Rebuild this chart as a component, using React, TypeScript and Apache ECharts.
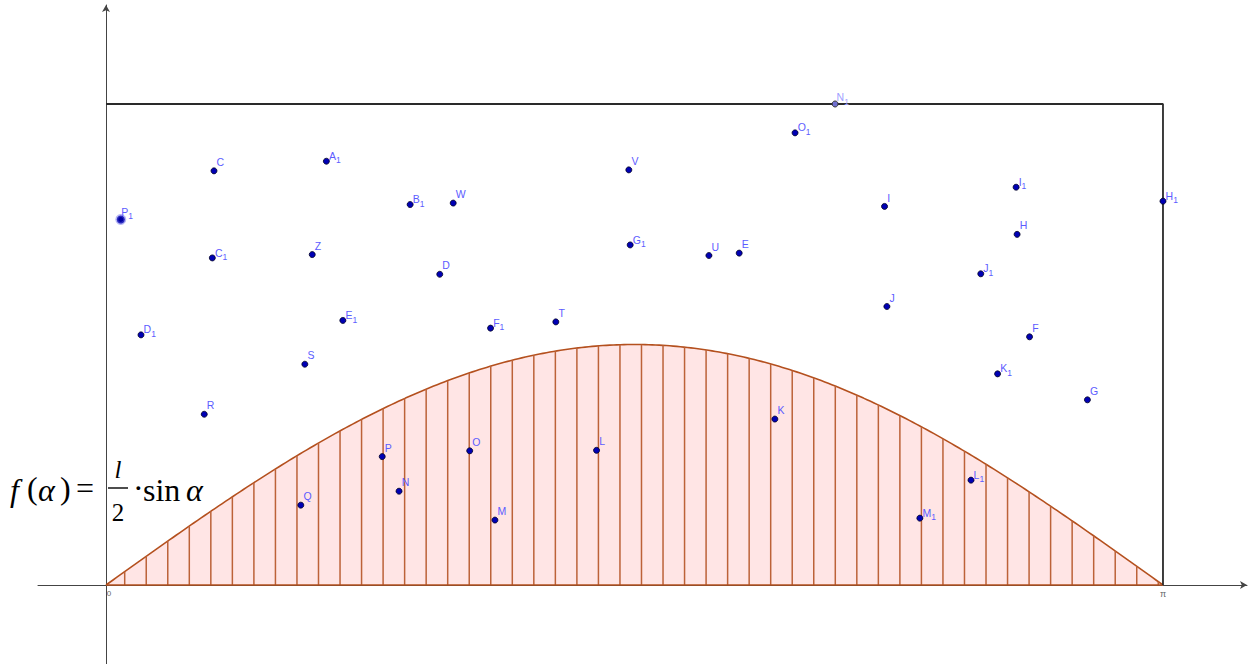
import React, { useEffect, useRef } from "react";
import * as echarts from "echarts";

// Needle length l (height of the rectangle); curve is f(α) = l/2 · sin α
const L = 1;

// Visible window of the coordinate system
const X_MIN = -0.2021;
const X_MAX = 3.3913;
const Y_MIN = -0.1642;
const Y_MAX = 1.2058;

// Random sample points (α, y)
const pointNames = [
  "P1", "C", "A1", "B1", "W", "V", "O1", "I1", "H1", "I", "H", "C1", "Z", "G1", "U", "E", "D",
  "J1", "J", "D1", "E1", "F1", "T", "F", "K1", "S", "G", "R", "K", "P", "O", "L", "L1", "Q", "N", "M", "M1",
];
const pointX = [
  0.044, 0.321, 0.655, 0.904, 1.032, 1.554, 2.048, 2.705, 3.1416, 2.314, 2.708, 0.316, 0.613, 1.558, 1.792, 1.882, 0.992,
  2.600, 2.321, 0.104, 0.704, 1.143, 1.337, 2.745, 2.650, 0.591, 2.917, 0.292, 1.988, 0.821, 1.081, 1.458, 2.571, 0.579, 0.871, 1.156, 2.419,
];
const pointY = [
  0.760, 0.861, 0.881, 0.791, 0.794, 0.863, 0.940, 0.827, 0.798, 0.787, 0.729, 0.680, 0.687, 0.707, 0.685, 0.690, 0.646,
  0.647, 0.579, 0.520, 0.550, 0.534, 0.547, 0.516, 0.439, 0.459, 0.385, 0.355, 0.345, 0.267, 0.279, 0.280, 0.218, 0.166, 0.195, 0.135, 0.139,
];
// Point on the upper edge of the rectangle
const edgePointName = "N1";
const edgePointX = 2.167;
const edgePointY = 1.0;

// Hatching of the area under the curve
const hatchStart = 0.0556;
const hatchStep = 0.064;
const hatchCount = 49;

// Axis tick labels
const tickValues = [0, Math.PI];
const tickLabels = ["0", "π"];

const f = (a: number) => (L / 2) * Math.sin(a);

function labelText(name: string) {
  const base = name.replace(/\d+$/, "");
  const sub = name.slice(base.length);
  return sub ? `{b|${base}}{s|${sub}}` : `{b|${base}}`;
}

const SERIF = '"Liberation Serif", "Times New Roman", serif';

function serifText(text: string, x: number, y: number, size: number, italic: boolean, align = "left") {
  return {
    type: "text",
    x,
    y,
    z: 20,
    style: {
      text,
      fontFamily: SERIF,
      fontSize: size,
      fontStyle: italic ? "italic" : "normal",
      fill: "#000",
      textAlign: align,
      textVerticalAlign: "middle",
    },
  };
}

export default function App() {
  const ref = useRef<HTMLDivElement>(null);

  useEffect(() => {
    if (!ref.current) return;
    const chart = echarts.init(ref.current, undefined, { renderer: "svg" });

    const curveData: number[][] = [];
    for (let i = 0; i <= 300; i++) {
      const a = (i / 300) * Math.PI;
      curveData.push([a, f(a)]);
    }
    const hatchData: number[][] = [];
    for (let k = 0; k < hatchCount; k++) {
      const x = hatchStart + k * hatchStep;
      hatchData.push([x, f(x)]);
    }

    const labelRich = {
      b: { fontSize: 10.5, color: "#5c5cff", fontFamily: "Liberation Sans" },
      s: { fontSize: 8.5, color: "#5c5cff", fontFamily: "Liberation Sans", padding: [9, 0, 0, 0] },
    };
    const edgeRich = {
      b: { fontSize: 10.5, color: "#a0a0ff", fontFamily: "Liberation Sans" },
      s: { fontSize: 8.5, color: "#a0a0ff", fontFamily: "Liberation Sans", padding: [9, 0, 0, 0] },
    };

    const pts = pointNames.map((n, i) => {
      const big = n === "P1";
      return {
        name: n,
        value: [pointX[i], pointY[i]],
        symbolSize: big ? 8 : 6,
        itemStyle: big
          ? { color: "#0000a0", borderColor: "rgba(90,90,230,0.45)", borderWidth: 3, opacity: 1 }
          : { color: "#0000b4", borderColor: "#000022", borderWidth: 0.8, opacity: 1 },
      };
    });

    const option: any = {
      animation: false,
      backgroundColor: "#ffffff",
      grid: { left: 38, right: 3, top: 5, bottom: 0, containLabel: false, outerBoundsMode: "none" },
      xAxis: {
        type: "value",
        min: X_MIN,
        max: X_MAX,
        splitLine: { show: false },
        axisTick: { show: false },
        axisLabel: { show: false },
        axisLine: {
          onZero: true,
          lineStyle: { color: "#444", width: 1 },
          symbol: ["none", "arrow"],
          symbolSize: [6, 7],
        },
      },
      yAxis: {
        type: "value",
        min: Y_MIN,
        max: Y_MAX,
        splitLine: { show: false },
        axisTick: { show: false },
        axisLabel: { show: false },
        axisLine: {
          onZero: true,
          lineStyle: { color: "#444", width: 1 },
          symbol: ["none", "arrow"],
          symbolSize: [6, 7],
        },
      },
      series: [
        {
          type: "line",
          data: curveData,
          showSymbol: false,
          smooth: false,
          lineStyle: { color: "#b4501e", width: 1.6 },
          areaStyle: { color: "#ffe5e5", opacity: 1 },
          z: 2,
          silent: true,
        },
        {
          type: "custom",
          data: hatchData,
          clip: false,
          z: 3,
          silent: true,
          renderItem: (_p: any, api: any) => {
            const x = api.value(0);
            const p0 = api.coord([x, 0]);
            const p1 = api.coord([x, api.value(1)]);
            return {
              type: "line",
              shape: { x1: p0[0], y1: p0[1], x2: p1[0], y2: p1[1] },
              style: { stroke: "#bc6238", lineWidth: 1.5 },
            };
          },
        },
        {
          type: "line",
          data: [
            [0, 0],
            [Math.PI, 0],
          ],
          showSymbol: false,
          lineStyle: { color: "#b4501e", width: 1.6 },
          z: 4,
          silent: true,
        },
        {
          type: "line",
          data: [
            [0, L],
            [Math.PI, L],
            [Math.PI, 0],
          ],
          showSymbol: false,
          lineStyle: { color: "#2a2a2a", width: 1.8 },
          z: 5,
          silent: true,
        },
        {
          type: "scatter",
          data: tickValues.map((v, i) => ({ name: tickLabels[i], value: [v, 0] })),
          symbol: "circle",
          symbolSize: 1,
          itemStyle: { color: "rgba(0,0,0,0)", opacity: 1 },
          z: 6,
          silent: true,
          label: {
            show: true,
            position: "bottom",
            distance: 4,
            formatter: (p: any) => (p.dataIndex === 0 ? `{z|${p.name}}` : `{n|${p.name}}`),
            rich: {
              z: { fontSize: 8, color: "#666", fontFamily: "Liberation Sans", padding: [0, 0, 0, 6] },
              n: { fontSize: 9, color: "#666", fontFamily: "Liberation Sans" },
            },
          },
        },
        {
          type: "scatter",
          data: pts,
          z: 10,
          label: {
            show: true,
            position: [6, -11],
            formatter: (p: any) => labelText(p.name),
            rich: labelRich,
          },
        },
        {
          type: "scatter",
          data: [{ name: edgePointName, value: [edgePointX, edgePointY] }],
          symbolSize: 6,
          itemStyle: { color: "#7070d0", borderColor: "#333", borderWidth: 1, opacity: 1 },
          z: 11,
          label: {
            show: true,
            position: [5, -12],
            formatter: (p: any) => labelText(p.name),
            rich: edgeRich,
          },
        },
      ],
      graphic: [
        serifText("f", 10, 490, 32, true),
        serifText("(", 27, 488, 32, false),
        serifText("α", 38, 490, 32, true),
        serifText(")", 60, 488, 32, false),
        serifText("=", 76, 488, 32, false),
        serifText("l", 118, 469, 25, true, "center"),
        {
          type: "line",
          shape: { x1: 108, y1: 488, x2: 128, y2: 488 },
          style: { stroke: "#000", lineWidth: 1.4 },
          z: 20,
        },
        serifText("2", 118, 512, 25, false, "center"),
        serifText("·", 133, 488, 32, false),
        serifText("sin", 143, 490, 32, false),
        serifText("α", 186, 490, 32, true),
      ],
    };

    chart.setOption(option);
    return () => chart.dispose();
  }, []);

  return (
    <div
      ref={ref}
      style={{ position: "fixed", left: 0, top: 0, width: 1250, height: 664, background: "#fff" }}
    />
  );
}
